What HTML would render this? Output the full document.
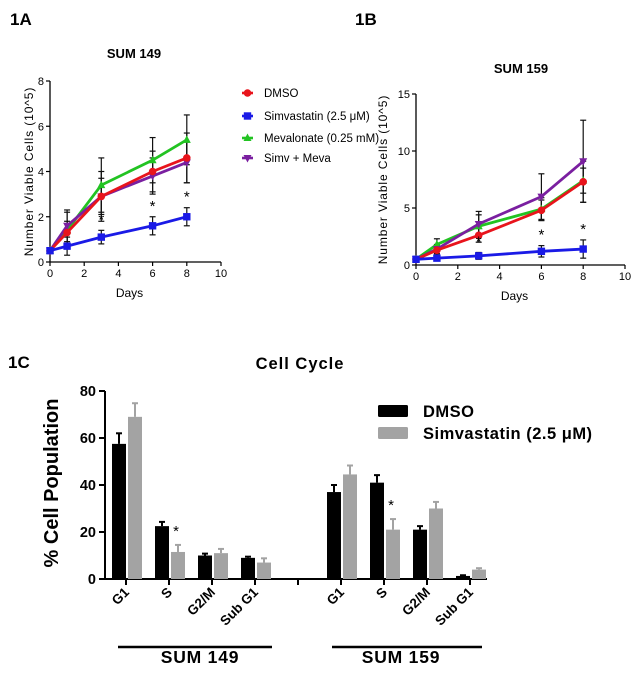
<!DOCTYPE html>
<html><head><meta charset="utf-8"><style>
html,body{margin:0;padding:0;background:#fff;}
svg{display:block;font-family:"Liberation Sans",sans-serif;}
</style></head><body>
<svg id="fig" width="641" height="676" viewBox="0 0 641 676">
<rect width="641" height="676" fill="#fff"/>
<text x="10" y="25" font-size="17" font-weight="bold">1A</text>
<text x="355" y="25" font-size="17" font-weight="bold">1B</text>
<text x="8" y="368" font-size="17" font-weight="bold">1C</text>
<text x="134" y="58" font-size="13" font-weight="bold" text-anchor="middle">SUM 149</text>
<text x="521" y="73" font-size="13" font-weight="bold" text-anchor="middle">SUM 159</text>
<g id="pA"></g><g id="pB"></g><g id="legA"></g><g id="pC"></g>
</svg>
<script>
// ---- Growth data (panels 1A, 1B) ----
const days = [0, 1, 3, 6, 8];
const seriesNames = ["DMSO", "Simvastatin (2.5 \u03BCM)", "Mevalonate (0.25 mM)", "Simv + Meva"];
const a_dmso = [0.5, 1.3, 2.9, 4.0, 4.6];
const a_simva = [0.5, 0.7, 1.1, 1.6, 2.0];
const a_meva = [0.5, 1.4, 3.4, 4.5, 5.4];
const a_combo = [0.5, 1.6, 2.9, 3.8, 4.4];
const a_dmsoErr = [0.1, 0.5, 1.1, 0.9, 1.1];
const a_simvaErr = [0.1, 0.4, 0.3, 0.4, 0.4];
const a_mevaErr = [0.1, 0.8, 1.2, 1.0, 1.1];
const a_comboErr = [0.1, 0.7, 0.8, 0.8, 0.9];
const b_dmso = [0.5, 1.3, 2.6, 4.8, 7.3];
const b_simva = [0.5, 0.6, 0.8, 1.2, 1.4];
const b_meva = [0.5, 1.8, 3.4, 4.9, 7.4];
const b_combo = [0.5, 1.4, 3.6, 6.0, 9.1];
const b_dmsoErr = [0.1, 0.4, 0.6, 0.9, 1.8];
const b_simvaErr = [0.1, 0.2, 0.3, 0.5, 0.8];
const b_mevaErr = [0.1, 0.5, 1.0, 1.0, 1.1];
const b_comboErr = [0.1, 0.4, 1.1, 2.0, 3.6];
const a_yTicks = [0, 2, 4, 6, 8];
const b_yTicks = [0, 5, 10, 15];
const xTicks = [0, 2, 4, 6, 8, 10];
const sigDaysA = [3, 6, 8];
const sigDaysB = [3, 6, 8];
// ---- Cell cycle data (panel 1C) ----
const phases = ["G1", "S", "G2/M", "Sub G1"];
const c149_dmso = [57.5, 22.5, 10, 9];
const c149_simva = [69, 11.5, 11, 7];
const c159_dmso = [37, 41, 21, 1.3];
const c159_simva = [44.5, 21, 30, 4];
const c149_dmsoErr = [4.5, 1.8, 0.8, 0.5];
const c149_simvaErr = [5.8, 3, 1.8, 1.8];
const c159_dmsoErr = [3, 3.2, 1.5, 0.3];
const c159_simvaErr = [3.8, 4.5, 2.8, 0.6];
const cYTicks = [0, 20, 40, 60, 80];

const NS = "http://www.w3.org/2000/svg";
function el(tag, attrs, parent, txt) {
  const e = document.createElementNS(NS, tag);
  for (const k in attrs) e.setAttribute(k, attrs[k]);
  if (txt !== undefined) e.textContent = txt;
  parent.appendChild(e);
  return e;
}
const colors = ["#e8141c", "#1a1ae6", "#22c322", "#7a1fa0"];

function marker(g, kind, x, y, c) {
  let m;
  if (kind === 0) m = el("circle", {cx: x, cy: y, r: 3.8, fill: c}, g);
  else if (kind === 1) m = el("rect", {x: x - 3.7, y: y - 3.7, width: 7.4, height: 7.4, fill: c}, g);
  else if (kind === 2) m = el("polygon", {points: `${x},${y-4.5} ${x-4},${y+3} ${x+4},${y+3}`, fill: c}, g);
  else m = el("polygon", {points: `${x},${y+4.5} ${x-4},${y-3} ${x+4},${y-3}`, fill: c}, g);
  
  
}

function growthPanel(gid, x0, x1, y0, y1, ymax, yTicks, series, errs, sig, ylabelX) {
  const g = document.getElementById(gid);
  const sx = d => x0 + (x1 - x0) * d / 10;
  const sy = v => y0 - (y0 - y1) * v / ymax;
  const ax = el("g", {}, g);
  
  
  el("line", {x1: x0, y1: y0, x2: x1, y2: y0, stroke: "#000", "stroke-width": 1.3}, ax);
  el("line", {x1: x0, y1: y0, x2: x0, y2: y1, stroke: "#000", "stroke-width": 1.3}, ax);
  xTicks.forEach(t => {
    el("line", {x1: sx(t), y1: y0, x2: sx(t), y2: y0 + 4, stroke: "#000", "stroke-width": 1.2}, ax);
    const tx = el("text", {x: sx(t), y: y0 + 15, "font-size": 11, "text-anchor": "middle"}, ax, t);
    
    
  });
  yTicks.forEach(t => {
    el("line", {x1: x0 - 4, y1: sy(t), x2: x0, y2: sy(t), stroke: "#000", "stroke-width": 1.2}, ax);
    const ty = el("text", {x: x0 - 6, y: sy(t) + 4, "font-size": 11, "text-anchor": "end"}, ax, t);
    
    
  });
  const xl = el("text", {x: (x0 + x1) / 2 - 6, y: y0 + 35, "font-size": 12, "text-anchor": "middle"}, g, "Days");
  
  
  const cy = (y0 + y1) / 2;
  const yl = el("text", {x: ylabelX, y: cy, "font-size": 12, "letter-spacing": 0.9, "text-anchor": "middle", transform: `rotate(-90 ${ylabelX} ${cy})`}, g, "Number Viable Cells (10^5)");
  
  
  series.forEach((s, i) => {
    s.forEach((v, j) => {
      const x = sx(days[j]), e = errs[i][j];
      const eb = el("g", {stroke: "#111", "stroke-width": 1.2}, g);
      
      
      el("line", {x1: x, y1: sy(v - e), x2: x, y2: sy(v + e)}, eb);
      el("line", {x1: x - 3, y1: sy(v + e), x2: x + 3, y2: sy(v + e)}, eb);
      el("line", {x1: x - 3, y1: sy(v - e), x2: x + 3, y2: sy(v - e)}, eb);
    });
  });
  [2, 3, 0, 1].forEach(i => {
    const s = series[i];
    const pl = el("polyline", {points: s.map((v, j) => `${sx(days[j])},${sy(v)}`).join(" "), fill: "none", stroke: colors[i], "stroke-width": 2.8}, g);
    
    
    s.forEach((v, j) => marker(g, i, sx(days[j]), sy(v), colors[i]));
  });
  sig.forEach(d => {
    const j = days.indexOf(d);
    const top = series[1][j] + errs[1][j];
    const st = el("text", {x: sx(d), y: sy(top) - 6, "font-size": 15, "text-anchor": "middle"}, g, "*");
    
    
  });
}
growthPanel("pA", 50, 221, 262, 81, 8, a_yTicks, [a_dmso, a_simva, a_meva, a_combo], [a_dmsoErr, a_simvaErr, a_mevaErr, a_comboErr], sigDaysA, 33);
growthPanel("pB", 416, 625, 265, 94, 15, b_yTicks, [b_dmso, b_simva, b_meva, b_combo], [b_dmsoErr, b_simvaErr, b_mevaErr, b_comboErr], sigDaysB, 387);

(function () {
  const g = document.getElementById("legA");
  
  
  const ys = [93, 116, 138, 158];
  seriesNames.forEach((n, i) => {
    const e = el("g", {}, g);
    
    
    el("line", {x1: 242, y1: ys[i], x2: 253, y2: ys[i], stroke: colors[i], "stroke-width": 2.6}, e);
    marker(e, i, 247.5, ys[i], colors[i]);
    el("text", {x: 264, y: ys[i] + 4, "font-size": 11.5}, e, n);
  });
})();

(function () {
  const g = document.getElementById("pC");
  const x0 = 105, x1 = 487, y0 = 579, y1 = 391, ymax = 80;
  const sy = v => y0 - (y0 - y1) * v / ymax;
  const tick0 = 126, step = 43;
  const t = el("text", {x: 300, y: 369, "font-size": 16.5, "font-weight": "bold", "text-anchor": "middle", "letter-spacing": 1}, g, "Cell  Cycle");
  
  
  t.setAttribute('xml:space', 'preserve');
  const ax = el("g", {}, g);
  
  
  el("line", {x1: x0, y1: y0, x2: x1, y2: y0, stroke: "#000", "stroke-width": 2}, ax);
  el("line", {x1: x0, y1: y0, x2: x0, y2: y1, stroke: "#000", "stroke-width": 2}, ax);
  cYTicks.forEach(v => {
    el("line", {x1: x0 - 6, y1: sy(v), x2: x0, y2: sy(v), stroke: "#000", "stroke-width": 2}, ax);
    const ty = el("text", {x: x0 - 9, y: sy(v) + 5, "font-size": 14.5, "font-weight": "bold", "text-anchor": "end"}, ax, v);
    
    
  });
  const yl = el("text", {x: 58, y: 483, "font-size": 20, "font-weight": "bold", "text-anchor": "middle", transform: "rotate(-90 58 483)"}, g, "% Cell Population");
  
  
  const groups = [[c149_dmso, c149_simva, c149_dmsoErr, c149_simvaErr, 0], [c159_dmso, c159_simva, c159_dmsoErr, c159_simvaErr, 5]];
  el("line", {x1: tick0 + 4 * step, y1: y0, x2: tick0 + 4 * step, y2: y0 + 6, stroke: "#000", "stroke-width": 2}, ax);
  groups.forEach(([d, s, de, se, off]) => {
    phases.forEach((p, k) => {
      const tx = tick0 + (off + k) * step;
      el("line", {x1: tx, y1: y0, x2: tx, y2: y0 + 6, stroke: "#000", "stroke-width": 2}, ax);
      [[d[k], de[k], tx - 14, "#000", "bar-dmso"], [s[k], se[k], tx + 2, "#a3a3a3", "bar-simvastatin"]].forEach(([v, e, bx, c, nm]) => {
        const b = el("rect", {x: bx, y: sy(v), width: 14, height: y0 - sy(v), fill: c}, g);
        
        
        const eb = el("g", {stroke: c, "stroke-width": 2}, g);
        
        
        el("line", {x1: bx + 7, y1: sy(v), x2: bx + 7, y2: sy(v + e)}, eb);
        el("line", {x1: bx + 4, y1: sy(v + e), x2: bx + 10, y2: sy(v + e)}, eb);
      });
      const lb = el("text", {x: tx + 4, y: y0 + 14, "font-size": 13.5, "font-weight": "bold", "text-anchor": "end", transform: `rotate(-45 ${tx + 4} ${y0 + 14})`}, g, p);
      
      
    });
    const st = el("text", {x: tick0 + (off + 1) * step + 7, y: sy(s[1] + se[1]) - 9, "font-size": 15, "text-anchor": "middle"}, g, "*");
    
    
  });
  [["SUM 149", 118, 272, 200], ["SUM 159", 332, 482, 401]].forEach(([n, a, b, c]) => {
    const gg = el("g", {}, g);
    
    
    el("line", {x1: a, y1: 647, x2: b, y2: 647, stroke: "#000", "stroke-width": 2.5}, gg);
    el("text", {x: c, y: 663, "font-size": 17.5, "font-weight": "bold", "text-anchor": "middle", "letter-spacing": 0.8}, gg, n);
  });
  const lg = el("g", {}, g);
  
  
  [["DMSO", "#000", 411], ["Simvastatin (2.5 \u03BCM)", "#a3a3a3", 433]].forEach(([n, c, y]) => {
    const e = el("g", {}, lg);
    
    
    el("rect", {x: 378, y: y - 6, width: 30, height: 12, fill: c, rx: 1.5}, e);
    el("text", {x: 423, y: y + 6, "font-size": 16.5, "font-weight": "bold", "letter-spacing": 0.5}, e, n);
  });
})();
</script>
</body></html>
